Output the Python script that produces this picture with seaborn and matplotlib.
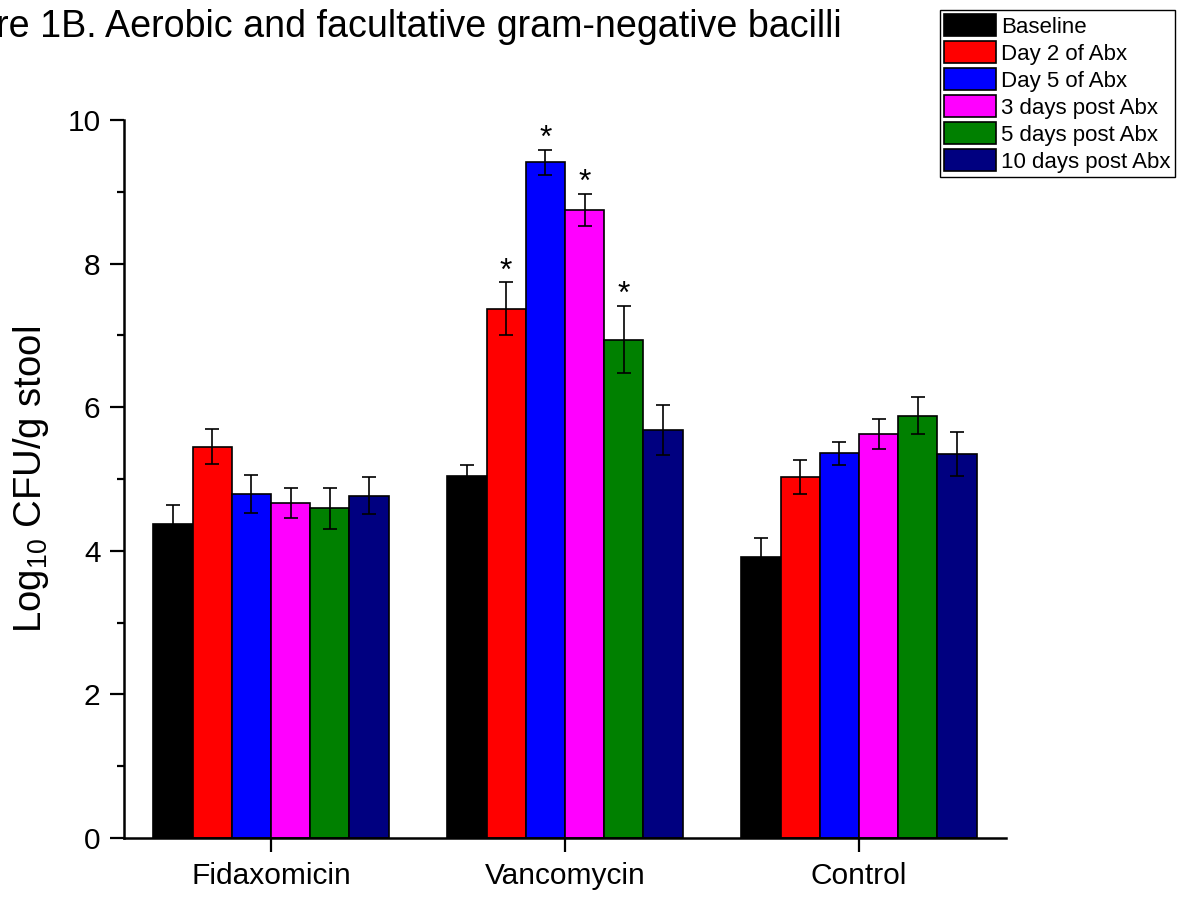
import matplotlib
matplotlib.use("Agg")
import matplotlib.pyplot as plt
import numpy as np
import pandas as pd
import seaborn as sns

# Treatment groups and sampling time points
groups = ["Fidaxomicin", "Vancomycin", "Control"]
timepoints = ["Baseline", "Day 2 of Abx", "Day 5 of Abx",
              "3 days post Abx", "5 days post Abx", "10 days post Abx"]
colors = ["#000000", "#FF0000", "#0000FF", "#FF00FF", "#008000", "#000080"]

# Mean log10 CFU/g stool, one list per group (in time point order)
fidaxomicin_mean = [4.38, 5.45, 4.79, 4.66, 4.59, 4.77]
vancomycin_mean = [5.04, 7.37, 9.41, 8.75, 6.94, 5.68]
control_mean = [3.92, 5.03, 5.36, 5.63, 5.88, 5.35]

# Standard errors
fidaxomicin_se = [0.26, 0.24, 0.27, 0.21, 0.28, 0.26]
vancomycin_se = [0.15, 0.37, 0.17, 0.22, 0.47, 0.35]
control_se = [0.26, 0.24, 0.16, 0.21, 0.26, 0.31]

# Significant time points (marked with *)
vancomycin_sig = [False, True, True, True, True, False]
fidaxomicin_sig = [False] * 6
control_sig = [False] * 6

means = [fidaxomicin_mean, vancomycin_mean, control_mean]
ses = [fidaxomicin_se, vancomycin_se, control_se]
sigs = [fidaxomicin_sig, vancomycin_sig, control_sig]

rows = []
for g, m, s, sg in zip(groups, means, ses, sigs):
    for t, mv, sv, sgv in zip(timepoints, m, s, sg):
        rows.append({"group": g, "timepoint": t, "mean": mv, "se": sv, "sig": sgv})
df = pd.DataFrame(rows)

sns.set_style("ticks")
plt.rcParams["font.family"] = ["Liberation Sans", "DejaVu Sans"]
plt.rcParams["mathtext.fontset"] = "custom"
plt.rcParams["mathtext.rm"] = "Liberation Sans"
plt.rcParams["mathtext.it"] = "Liberation Sans:italic"
plt.rcParams["mathtext.bf"] = "Liberation Sans:bold"
for key in ["text.color", "axes.labelcolor", "xtick.color", "ytick.color",
            "axes.edgecolor"]:
    plt.rcParams[key] = "black"

W, H = 1177, 897
fig = plt.figure(figsize=(W / 100, H / 100), dpi=100)
ax = fig.add_axes([124 / W, 59 / H, 882 / W, 718 / H])

sns.barplot(data=df, x="group", y="mean", hue="timepoint",
            order=groups, hue_order=timepoints, palette=colors,
            errorbar=None, width=0.8, gap=0, edgecolor="black",
            linewidth=1.2, saturation=1, ax=ax, zorder=2)

# Error bars and significance markers on each bar
for ti, (t, cont) in enumerate(zip(timepoints, ax.containers)):
    sub = df[df["timepoint"] == t].set_index("group").loc[groups]
    xs = [p.get_x() + p.get_width() / 2 for p in cont.patches]
    ax.errorbar(xs, sub["mean"].values, yerr=sub["se"].values, fmt="none",
                ecolor="black", elinewidth=1.2, capsize=4.7, capthick=1.2,
                zorder=3)
    for x, mv, sv, sg in zip(xs, sub["mean"].values, sub["se"].values, sub["sig"].values):
        if sg:
            ax.annotate("*", (x, mv + sv), xytext=(0, 2), textcoords="offset points",
                        ha="center", va="baseline", fontsize=23, color="black")

ax.set_xlim(-0.5, 2.5)
ax.set_ylim(0, 10)
ax.set_yticks([0, 2, 4, 6, 8, 10])
ax.set_yticks([1, 3, 5, 7, 9], minor=True)
ax.tick_params(axis="both", which="major", direction="out", length=10,
               width=1.6, labelsize=21.5, color="black", labelcolor="black")
ax.tick_params(axis="y", which="major", pad=7)
ax.tick_params(axis="x", which="major", pad=7)
ax.tick_params(axis="y", which="minor", direction="out", length=5, width=1.6)
for side in ["top", "right"]:
    ax.spines[side].set_visible(False)
for side in ["left", "bottom"]:
    ax.spines[side].set_linewidth(1.8)
    ax.spines[side].set_color("black")

ax.set_xlabel("")
ax.set_ylabel(r"Log$_{\mathrm{10}}$ CFU/g stool", fontsize=27.5, labelpad=12)

handles, labels = ax.get_legend_handles_labels()
ax.get_legend().remove()
fig.legend(handles, labels, loc="upper left",
           bbox_to_anchor=(940 / W, 1 - 10 / H), bbox_transform=fig.transFigure,
           fontsize=16, frameon=True, fancybox=False, edgecolor="black",
           framealpha=1, borderpad=0.2, labelspacing=0.17, handlelength=2.3,
           handleheight=1.1, handletextpad=0.25, borderaxespad=0)

fig.text(842 / W, 1 - 37 / H,
         "Figure 1B. Aerobic and facultative gram-negative bacilli",
         ha="right", va="baseline", fontsize=27.1)

fig.savefig("out.png", dpi=100)
